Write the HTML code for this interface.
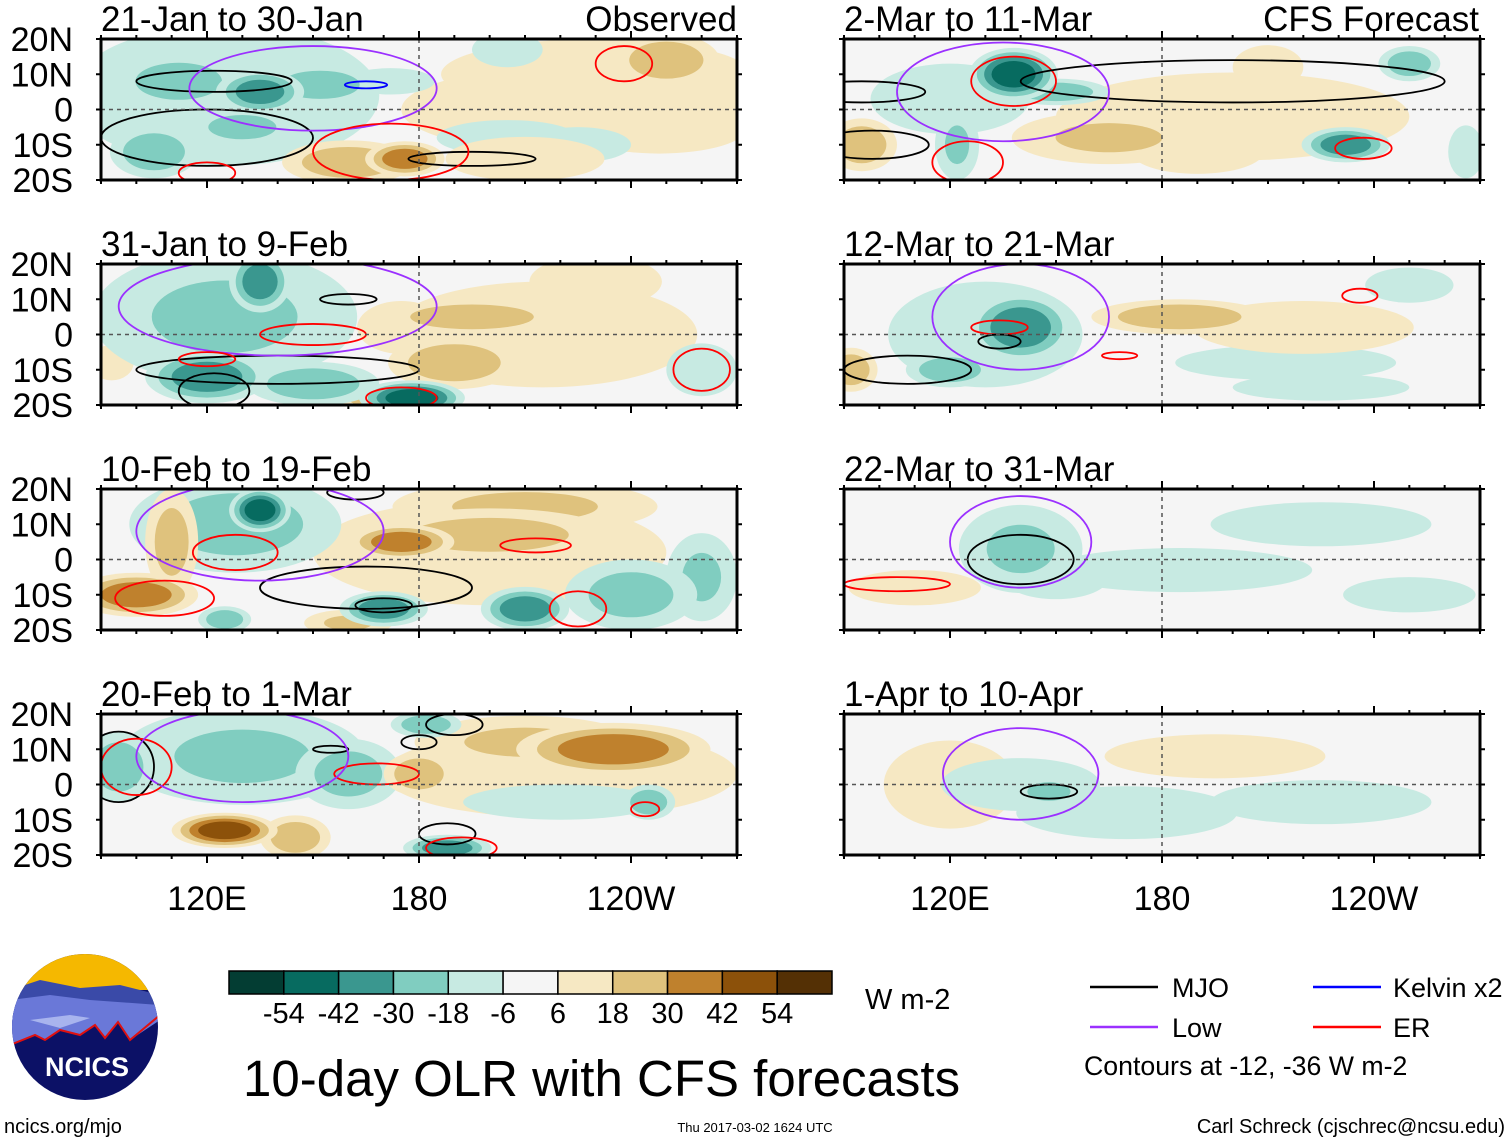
<!DOCTYPE html>
<html><head><meta charset="utf-8">
<style>
html,body{margin:0;padding:0;background:#fff;}
body{width:1510px;height:1142px;overflow:hidden;font-family:"Liberation Sans",sans-serif;}
svg text{font-family:"Liberation Sans",sans-serif;}
</style></head>
<body>
<svg id="chart" width="1510" height="1142" viewBox="0 0 1510 1142" xmlns="http://www.w3.org/2000/svg"></svg>
<script>
// ---- data ----
const levels = [-54,-42,-30,-18,-6,6,18,30,42,54];
const levelColors = ["#033d33","#076b60","#3a978f","#80cdc0","#c7eae2","#f5f5f5","#f6e8c3","#dfc27d","#bf812d","#8c510a","#543005"];
const panelTitles = ["21-Jan to 30-Jan","31-Jan to 9-Feb","10-Feb to 19-Feb","20-Feb to 1-Mar","2-Mar to 11-Mar","12-Mar to 21-Mar","22-Mar to 31-Mar","1-Apr to 10-Apr"];
const latTicks = ["20N","10N","0","10S","20S"];
const lonTickLabels = ["120E","180","120W"];
const lonTickValues = [120,180,240];
// blobs: [lon, lat, anomaly, lonRadius, latRadius]
const blobs0 = [[125,4,-18,35,16],[112,8,-30,14,6],[135,5,-40,10,5],[152,7,-25,14,5],[172,8,-18,10,3],[105,-12,-30,10,6],[130,-5,-20,14,5],[160,-15,30,15,5],[176,-14,42,9,4],[210,-14,18,18,5],[230,10,12,35,8],[250,14,30,12,6],[205,-8,-10,16,4],[225,-10,-12,12,4],[205,17,-12,8,4],[248,-5,8,20,6],[225,0,8,40,10]];
const blobs1 = [[125,5,-20,30,15],[135,15,-42,7,7],[120,-12,-42,14,6],[150,-14,-30,15,5],[178,-18,-54,12,4],[195,5,30,20,4],[190,-8,30,15,6],[175,2,18,10,6],[230,15,18,15,6],[260,-10,-18,8,6],[93,-8,18,5,4],[165,-18,25,6,3],[215,0,8,35,12]];
const blobs2 = [[128,10,-25,24,11],[135,14,-54,7,5],[100,-10,42,14,5],[110,5,25,6,12],[175,5,42,12,4],[200,7,25,28,6],[210,15,20,30,6],[170,-14,-42,10,4],[210,-14,-42,10,5],[240,-10,-25,15,8],[260,-5,-20,8,10],[125,-17,-30,6,3],[160,-18,20,10,3],[200,2,10,40,12]];
const blobs3 = [[130,8,-20,28,11],[95,5,-30,8,8],[160,3,-25,12,8],[125,-13,54,12,4],[145,-15,30,8,5],[235,10,42,22,6],[180,3,30,8,5],[188,-18,-42,10,3],[182,17,-30,8,3],[245,-5,-30,6,4],[220,-5,-12,22,4],[210,12,20,25,6],[220,3,10,40,10]];
const blobs4 = [[138,10,-54,10,6],[150,5,-30,12,3],[120,3,-12,18,8],[122,-10,-20,5,8],[95,-10,30,8,6],[165,-8,20,22,6],[190,-12,18,15,5],[232,-10,-42,10,4],[250,13,-30,7,4],[220,5,18,12,3],[210,12,15,8,5],[266,-12,-12,4,6],[200,-2,10,40,10]];
const blobs5 = [[140,2,-42,12,8],[130,0,-18,22,12],[120,-10,-30,10,4],[92,-10,30,6,5],[185,5,30,20,4],[220,2,18,25,6],[215,-8,-12,25,4],[250,14,-10,10,4],[225,-15,-12,20,3]];
const blobs6 = [[140,3,-20,14,10],[150,-5,-12,12,5],[185,-3,-8,30,5],[225,10,-8,25,5],[250,-10,-8,15,4],[110,-8,8,15,4]];
const blobs7 = [[148,-2,-30,7,3],[140,0,-12,18,6],[170,-8,-10,25,6],[120,0,8,15,10],[195,8,8,25,5],[225,-5,-8,25,5]];
const allBlobs = [blobs0,blobs1,blobs2,blobs3,blobs4,blobs5,blobs6,blobs7];
// contours: [lon, lat, lonRadius, latRadius, kind]
const contours0 = [[122,8,22,3,"mjo"],[120,-8,30,8,"mjo"],[195,-14,18,2,"mjo"],[150,6,35,12,"low"],[172,-12,22,8,"er"],[238,13,8,5,"er"],[165,7,6,1,"kelvin"],[120,-18,8,3,"er"]];
const contours1 = [[160,10,8,1.5,"mjo"],[122,-16,10,5,"mjo"],[140,-10,40,4,"mjo"],[150,0,15,3,"er"],[175,-18,10,3,"er"],[260,-10,8,6,"er"],[140,8,45,14,"low"],[120,-7,8,2,"er"]];
const contours2 = [[165,-8,30,6,"mjo"],[170,-13,8,2,"mjo"],[162,19,8,2,"mjo"],[128,2,12,5,"er"],[108,-11,14,5,"er"],[213,4,10,2,"er"],[225,-14,8,5,"er"],[135,8,35,14,"low"]];
const contours3 = [[95,5,10,10,"mjo"],[190,17,8,3,"mjo"],[180,12,5,2,"mjo"],[155,10,5,1,"mjo"],[188,-14,8,3,"mjo"],[168,3,12,3,"er"],[100,5,10,8,"er"],[244,-7,4,2,"er"],[192,-18,10,3,"er"],[130,8,30,13,"low"]];
const contours4 = [[138,8,12,7,"er"],[95,5,18,3,"mjo"],[98,-10,16,4,"mjo"],[200,8,60,6,"mjo"],[135,5,30,14,"low"],[125,-15,10,6,"er"],[237,-11,8,3,"er"]];
const contours5 = [[134,2,8,2,"er"],[134,-2,6,2,"mjo"],[108,-10,18,4,"mjo"],[140,5,25,15,"low"],[236,11,5,2,"er"],[168,-6,5,1,"er"]];
const contours6 = [[140,0,15,7,"mjo"],[140,5,20,13,"low"],[105,-7,15,2,"er"]];
const contours7 = [[148,-2,8,2,"mjo"],[140,3,22,13,"low"]];
const allContours = [contours0,contours1,contours2,contours3,contours4,contours5,contours6,contours7];

// ---- layout ----
const NS = "http://www.w3.org/2000/svg";
const svg = document.getElementById('chart');
const PW = 636, PH = 141;
const panelX = [101,101,101,101,844,844,844,844];
const panelY = [39,264,489,714,39,264,489,714];
const kindColor = {mjo:"#000000",low:"#9b30ff",er:"#ff0000",kelvin:"#0000ff"};

function mk(tag, attrs, parent){
  const el = document.createElementNS(NS, tag);
  for (const k in attrs) el.setAttribute(k, attrs[k]);
  (parent||svg).appendChild(el);
  return el;
}
function colorFor(v){
  let i = 0;
  while (i < levels.length && v > levels[i]) i++;
  return levelColors[i];
}

const defs = mk('defs',{});
for (let p = 0; p < 8; p++){
  const x0 = panelX[p], y0 = panelY[p];
  const xs = lon => x0 + (lon - 90) / 180 * PW;
  const ys = lat => y0 + (20 - lat) / 40 * PH;
  const clip = mk('clipPath',{id:'clip'+p}, defs);
  mk('rect',{x:x0,y:y0,width:PW,height:PH}, clip);

  const g = mk('g',{'clip-path':'url(#clip'+p+')'});
  
  
  mk('rect',{x:x0,y:y0,width:PW,height:PH,fill:'#f5f5f5'}, g);

  const bl = allBlobs[p].slice().sort((a,b)=>Math.abs(a[2])-Math.abs(b[2]));
  bl.forEach(b => {
    const av = Math.abs(b[2]), sg = Math.sign(b[2]);
    const steps = [];
    for (let l = 6; l < av; l += 12) steps.push(l);
    steps.forEach(l => {
      const f = 1.25 * (1 - (l - 6) / Math.max(av, 12) * 0.75);
      const e = mk('ellipse',{cx:xs(b[0]),cy:ys(b[1]),rx:b[3]*PW/180*f,ry:b[4]*PH/40*f,fill:colorFor(sg*(l+1))}, g);
      
      
    });
  });
  allContours[p].forEach(c => {
    const e = mk('ellipse',{cx:xs(c[0]),cy:ys(c[1]),rx:c[2]*PW/180,ry:c[3]*PH/40,fill:'none',stroke:kindColor[c[4]],'stroke-width':1.8}, g);
    
    
  });
  mk('line',{x1:x0,y1:ys(0),x2:x0+PW,y2:ys(0),stroke:'#555','stroke-width':1.5,'stroke-dasharray':'4,4'}, g);
  mk('line',{x1:xs(180),y1:y0,x2:xs(180),y2:y0+PH,stroke:'#555','stroke-width':1.5,'stroke-dasharray':'4,4'}, g);

  const fr = mk('rect',{x:x0,y:y0,width:PW,height:PH,fill:'none',stroke:'#000','stroke-width':3});
  
  
  for (let lon = 90; lon <= 270; lon += 10){
    const major = lonTickValues.includes(lon);
    mk('line',{x1:xs(lon),y1:y0+PH,x2:xs(lon),y2:y0+PH+(major?8:4),stroke:'#000','stroke-width':2});
    mk('line',{x1:xs(lon),y1:y0,x2:xs(lon),y2:y0-(major?8:4),stroke:'#000','stroke-width':2});
  }
  for (let lat = -20; lat <= 20; lat += 10){
    mk('line',{x1:x0,y1:ys(lat),x2:x0-5,y2:ys(lat),stroke:'#000','stroke-width':2});
    mk('line',{x1:x0+PW,y1:ys(lat),x2:x0+PW+5,y2:ys(lat),stroke:'#000','stroke-width':2});
  }
  const t = mk('text',{x:x0,y:y0-8,'font-size':35,fill:'#000'});
  t.textContent = panelTitles[p];
  
  
  if (p < 4){
    latTicks.forEach((lb,i)=>{
      const tt = mk('text',{x:73,y:y0+i*PH/4+12,'font-size':34,'text-anchor':'end',fill:'#000'});
      tt.textContent = lb;
      
      
    });
  }
  if (p === 3 || p === 7){
    lonTickLabels.forEach((lb,i)=>{
      const tt = mk('text',{x:xs(lonTickValues[i]),y:910,'font-size':34,'text-anchor':'middle',fill:'#000'});
      tt.textContent = lb;
      
      
    });
  }
}
let tx = mk('text',{x:737,y:31,'font-size':35,'text-anchor':'end'}); tx.textContent='Observed';
 
tx = mk('text',{x:1479,y:31,'font-size':35,'text-anchor':'end'}); tx.textContent='CFS Forecast';
 

const cbX = 229, cbW = 603, cbY = 971, cbH = 23, bw = cbW / levelColors.length;
levelColors.forEach((c,i)=>{
  const r = mk('rect',{x:cbX+i*bw,y:cbY,width:bw,height:cbH,fill:c,stroke:'#000','stroke-width':1.5});
  
  
});
levels.forEach((l,i)=>{
  const t = mk('text',{x:cbX+(i+1)*bw,y:1023,'font-size':29,'text-anchor':'middle'});
  t.textContent = l;
  
  
});
tx = mk('text',{x:865,y:1009,'font-size':29}); tx.textContent='W m-2';
 
tx = mk('text',{x:243,y:1096,'font-size':51}); tx.textContent='10-day OLR with CFS forecasts';
 

const leg = [["MJO","#000",1090,987,1172],["Low","#9b30ff",1090,1027,1172],["Kelvin x2","#0000ff",1313,987,1393],["ER","#ff0000",1313,1027,1393]];
leg.forEach(L=>{
  const g = mk('g',{});
  
  
  mk('line',{x1:L[2],y1:L[3],x2:L[2]+68,y2:L[3],stroke:L[1],'stroke-width':2.5}, g);
  const t = mk('text',{x:L[4],y:L[3]+10,'font-size':27}, g); t.textContent = L[0];
});
tx = mk('text',{x:1084,y:1075,'font-size':26.7}); tx.textContent='Contours at -12, -36 W m-2';
 
tx = mk('text',{x:1505,y:1133,'font-size':20,'text-anchor':'end'}); tx.textContent='Carl Schreck (cjschrec@ncsu.edu)';
 
tx = mk('text',{x:4,y:1133,'font-size':20}); tx.textContent='ncics.org/mjo';
 
tx = mk('text',{x:755,y:1132,'font-size':13,'text-anchor':'middle'}); tx.textContent='Thu 2017-03-02 1624 UTC';
 

const lg = mk('g',{});


const lc = mk('clipPath',{id:'logoclip'}, defs);
mk('circle',{cx:85,cy:1027,r:73}, lc);
const li = mk('g',{'clip-path':'url(#logoclip)'}, lg);
mk('rect',{x:10,y:950,width:150,height:160,fill:'#0c1166'}, li);
mk('rect',{x:10,y:950,width:150,height:40,fill:'#f5b800'}, li);
mk('path',{d:'M10 990 L40 980 L80 988 L120 985 L160 995 L160 1015 L10 1025 Z',fill:'#3a4aa8'}, li);
mk('path',{d:'M10 1000 L50 995 L90 1000 L160 1005 L160 1020 L130 1040 L118 1022 L105 1038 L95 1025 L80 1035 L60 1030 L45 1040 L35 1035 L10 1045 Z',fill:'#6a78d8'}, li);
mk('path',{d:'M30 1020 L70 1015 L90 1018 L60 1028 Z',fill:'#a8b4ee'}, li);
mk('path',{d:'M10 1045 L35 1035 L45 1040 L60 1030 L80 1035 L95 1025 L105 1038 L118 1022 L130 1040 L160 1015',fill:'none',stroke:'#e01010','stroke-width':2}, li);
const lt = mk('text',{x:87,y:1076,'font-size':27,'font-weight':'bold',fill:'#fff','text-anchor':'middle'}, lg);
lt.textContent = 'NCICS';
</script>
</body></html>
